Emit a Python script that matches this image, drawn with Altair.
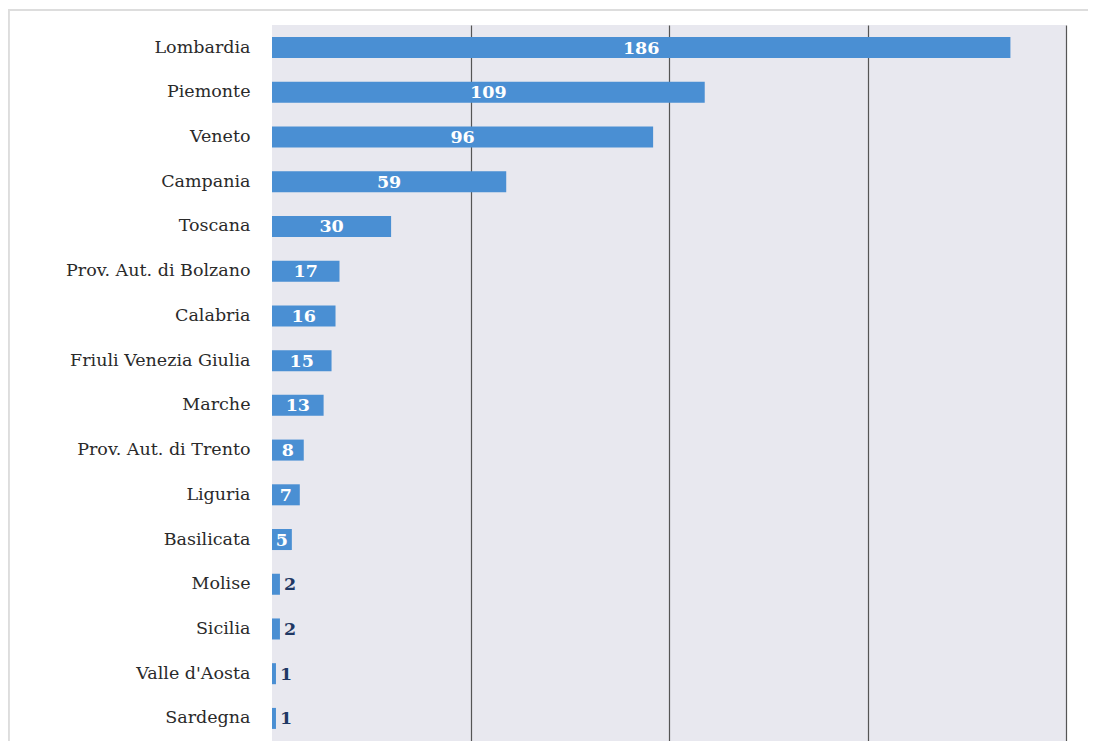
import altair as alt
import pandas as pd

regions = ["Lombardia", "Piemonte", "Veneto", "Campania", "Toscana",
           "Prov. Aut. di Bolzano", "Calabria", "Friuli Venezia Giulia",
           "Marche", "Prov. Aut. di Trento", "Liguria", "Basilicata",
           "Molise", "Sicilia", "Valle d'Aosta", "Sardegna"]
values = [186, 109, 96, 59, 30, 17, 16, 15, 13, 8, 7, 5, 2, 2, 1, 1]
grid_values = [50, 100, 150, 200]

df = pd.DataFrame({"region": regions, "value": values})
df["half"] = df["value"] / 2

FONT = "DejaVu Serif"
BAR = "#4a8fd3"

y_enc = alt.Y("region:N", sort=regions, title=None,
              scale=alt.Scale(paddingInner=0.53, paddingOuter=0.27),
              axis=alt.Axis(ticks=False, domain=False, labelFont=FONT,
                            labelFontSize=17.5, labelColor="#2a2a2a",
                            labelPadding=22, labelLimit=400))
x_scale = alt.Scale(domain=[0, 200], nice=False)

bars = alt.Chart(df).mark_bar(color=BAR).encode(
    x=alt.X("value:Q", scale=x_scale, title=None,
            axis=alt.Axis(values=grid_values, labels=False, ticks=False,
                          domain=False, grid=True, gridColor="#555555",
                          gridWidth=1.2)),
    y=y_enc,
)

inside = alt.Chart(df).transform_filter("datum.value >= 5").mark_text(
    font=FONT, fontSize=17.5, fontWeight="bold", color="white", dy=1
).encode(
    x=alt.X("half:Q", scale=x_scale),
    y=alt.Y("region:N", sort=regions),
    text="value:Q",
)

outside = alt.Chart(df).transform_filter("datum.value < 5").mark_text(
    font=FONT, fontSize=17.5, fontWeight="bold", color="#1f3864",
    align="left", dx=4, dy=1
).encode(
    x=alt.X("value:Q", scale=x_scale),
    y=alt.Y("region:N", sort=regions),
    text="value:Q",
)

frame_top = alt.Chart(df).mark_rule(color="#dddddd", strokeWidth=1.5, clip=False).encode(
    x=alt.value(-264), x2=alt.value(830), y=alt.value(-15)
)
frame_left = alt.Chart(df).mark_rule(color="#dddddd", strokeWidth=1.5, clip=False).encode(
    x=alt.value(-263.5), y=alt.value(-15), y2=alt.value(730)
)

chart = alt.layer(frame_top, frame_left, bars, inside, outside).properties(
    width=794, height=716,
    autosize=alt.AutoSizeParams(type="none"),
    padding={"left": 264, "top": 17, "right": 22, "bottom": 0},
    background="white",
).configure_view(fill="#e8e8ef", stroke=None)

chart.save("out.html", embed_options={"renderer": "svg", "actions": False})
